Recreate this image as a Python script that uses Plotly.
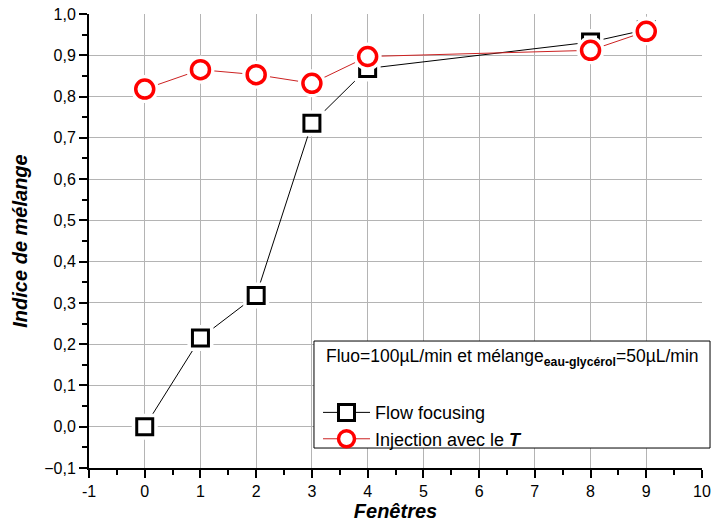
import plotly.graph_objects as go

fenetres = [0, 1, 2, 3, 4, 8, 9]
flow_focusing = [0.0, 0.215, 0.318, 0.735, 0.868, 0.932, 0.962]
injection_T = [0.818, 0.865, 0.853, 0.832, 0.897, 0.912, 0.958]

x_ticks = list(range(-1, 11))
y_ticks = [round(-0.1 + 0.1 * i, 1) for i in range(12)]

legend_title = "Fluo=100µL/min et mélange<sub><b>eau-glycérol</b></sub>=50µL/min"

FONT = "Liberation Sans, Arial, sans-serif"
BLACK_LINE = "#000000"
RED_LINE = "#cc2222"
RED = "#ff0000"

fig = go.Figure()

series = [
    ("Flow focusing", flow_focusing, "square", "#000000", BLACK_LINE, 16, 3),
    ("Injection avec le <b><i>T</i></b>", injection_T, "circle", RED, RED_LINE, 18, 3.5),
]

for name, vals, sym, mcol, lcol, msize, mlw in series:
    fig.add_trace(go.Scatter(x=fenetres, y=vals, mode="lines",
                             line=dict(color=lcol, width=1),
                             showlegend=False, hoverinfo="skip"))
    fig.add_trace(go.Scatter(x=fenetres, y=vals, mode="markers",
                             marker=dict(symbol=sym, size=msize + 10, color="white",
                                         line=dict(width=0)),
                             showlegend=False, hoverinfo="skip"))
    fig.add_trace(go.Scatter(x=fenetres, y=vals, mode="markers",
                             marker=dict(symbol=sym, size=msize, color="white",
                                         line=dict(color=mcol, width=mlw)),
                             showlegend=False))

for name, vals, sym, mcol, lcol, msize, mlw in series:
    fig.add_trace(go.Scatter(x=[None], y=[None], mode="lines+markers", name=name,
                             line=dict(color=lcol, width=1),
                             marker=dict(symbol=sym, size=msize, color="white",
                                         line=dict(color=mcol, width=mlw))))

# legend frame and title
fig.add_shape(type="rect", xref="paper", yref="paper",
              x0=0.367, x1=1.0131, y0=0.044, y1=0.2797,
              line=dict(color="black", width=1), fillcolor="white", layer="above")
fig.add_annotation(xref="paper", yref="paper", x=0.383, y=0.2423,
                   xanchor="left", yanchor="middle", showarrow=False,
                   text=legend_title, font=dict(family=FONT, size=17.5, color="black"))

fig.update_layout(
    width=711, height=527,
    margin=dict(l=89, r=9, t=14, b=59, autoexpand=False),
    paper_bgcolor="white", plot_bgcolor="white",
    separators=", ",
    font=dict(family=FONT, size=16, color="black"),
    showlegend=True,
    legend=dict(
        x=0.3736, y=0.1626, xanchor="left", yanchor="top",
        bgcolor="rgba(0,0,0,0)", borderwidth=0,
        font=dict(family=FONT, size=18, color="black"),
        itemwidth=47,
        tracegroupgap=0,
    ),
    xaxis=dict(
        range=[-1, 10], tickvals=x_ticks, ticktext=[str(v) for v in x_ticks],
        showline=True, linecolor="black", linewidth=2,
        ticks="outside", ticklen=8, tickwidth=2, tickcolor="black",
        showgrid=True, gridcolor="#b4b4b4", gridwidth=1, zeroline=False,
        minor=dict(dtick=0.5, tick0=-1, ticks="outside", ticklen=5, tickwidth=2,
                   tickcolor="black", showgrid=False),
        tickfont=dict(family=FONT, size=16),
        ticklabeloverflow="allow",
        automargin=False,
        title=dict(text="<b><i>Fenêtres</i></b>", font=dict(family=FONT, size=20), standoff=2),
    ),
    yaxis=dict(
        range=[-0.1, 1.0], tickvals=y_ticks, tickformat=".1f",
        showline=True, linecolor="black", linewidth=2,
        ticks="outside", ticklen=8, tickwidth=2, tickcolor="black",
        showgrid=True, gridcolor="#b4b4b4", gridwidth=1, zeroline=False,
        minor=dict(dtick=0.05, tick0=-0.1, ticks="outside", ticklen=5, tickwidth=2,
                   tickcolor="black", showgrid=False),
        tickfont=dict(family=FONT, size=16),
        ticklabeloverflow="allow",
        automargin=False,
        title=dict(text="<b><i>Indice de mélange</i></b>", font=dict(family=FONT, size=20), standoff=11),
    ),
)

# remove the browser's default 8px body margin so the figure fills the window
fig.write_html("out.html", config={"displayModeBar": False},
               post_script="document.body.style.margin='0';")
